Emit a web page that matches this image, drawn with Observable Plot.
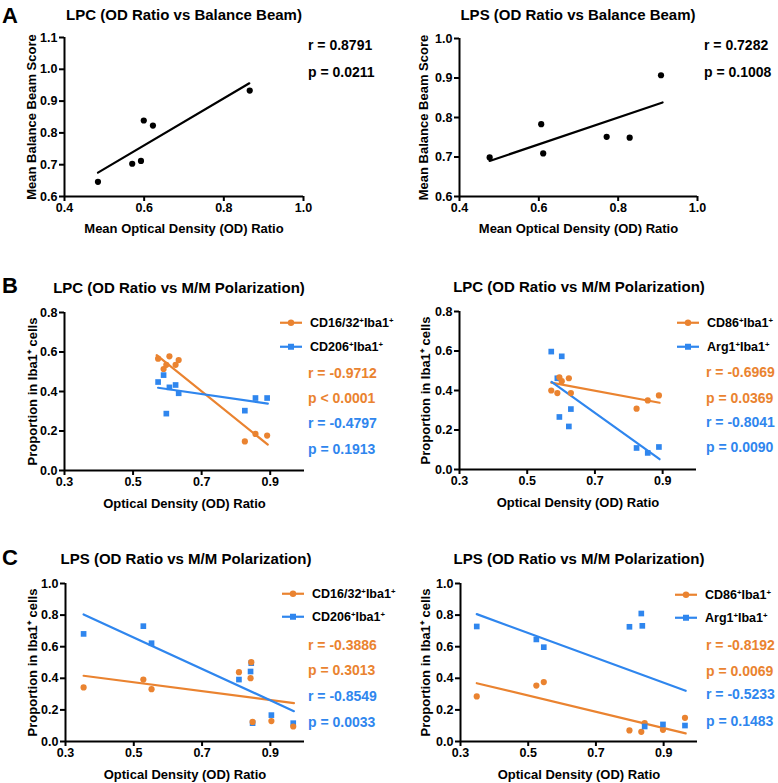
<!DOCTYPE html>
<html><head><meta charset="utf-8">
<script src="https://cdn.jsdelivr.net/npm/d3@7"></script>
<script src="https://cdn.jsdelivr.net/npm/@observablehq/plot@0.6"></script>
<style>
body{margin:0;background:#fff;}
#root{position:relative;width:778px;height:783px;overflow:hidden;background:#fff;font-family:"Liberation Sans",Arial,Helvetica,sans-serif;color:#000;}
.abs{position:absolute;white-space:nowrap;font-weight:bold;line-height:1;transform:translateY(-50%);}
.ttl{position:absolute;white-space:nowrap;font-weight:bold;line-height:1;font-size:15px;transform:translate(-50%,-50%);}
.let{position:absolute;font-weight:bold;font-size:22px;line-height:1;}
.stat{font-size:14px;}
.leg{font-size:12.5px;display:flex;align-items:center;}
sup{font-size:0.62em;vertical-align:0.5em;line-height:0;}
.plot{position:absolute;}
</style></head>
<body><div id="root"></div>
<script>
// ---------- DATA ----------
const ORANGE = "#EA8330", BLUE = "#2F86EE";

// A left: LPC OD ratio vs balance beam
const lpcBeamOD = [0.484, 0.570, 0.592, 0.599, 0.622, 0.865];
const lpcBeamScore = [0.646, 0.703, 0.712, 0.839, 0.823, 0.933];
const lpcBeamFitX = [0.484, 0.864];
const lpcBeamFitY = [0.675, 0.956];

// A right: LPS OD ratio vs balance beam
const lpsBeamOD = [0.476, 0.606, 0.611, 0.771, 0.829, 0.908];
const lpsBeamScore = [0.699, 0.783, 0.709, 0.751, 0.749, 0.907];
const lpsBeamFitX = [0.476, 0.912];
const lpsBeamFitY = [0.690, 0.838];

// B left: LPC CD16/32 & CD206
const lpcOD = [0.573, 0.589, 0.597, 0.606, 0.624, 0.633, 0.826, 0.857, 0.891];
const lpcCD1632 = [0.566, 0.514, 0.535, 0.578, 0.535, 0.559, 0.147, 0.185, 0.177];
const lpcCD206 = [0.448, 0.483, 0.288, 0.421, 0.433, 0.391, 0.303, 0.367, 0.367];
const lpcCD1632FitX = [0.569, 0.893], lpcCD1632FitY = [0.584, 0.131];
const lpcCD206FitX = [0.573, 0.893], lpcCD206FitY = [0.419, 0.339];

// B right: LPC CD86 & Arg1
const lpcOD2 = [0.571, 0.589, 0.595, 0.602, 0.623, 0.629, 0.823, 0.856, 0.889];
const lpcCD86 = [0.400, 0.387, 0.467, 0.447, 0.462, 0.387, 0.308, 0.350, 0.375];
const lpcArg1 = [0.597, 0.462, 0.266, 0.573, 0.218, 0.306, 0.109, 0.084, 0.114];
const lpcCD86FitX = [0.571, 0.891], lpcCD86FitY = [0.440, 0.338];
const lpcArg1FitX = [0.572, 0.891], lpcArg1FitY = [0.444, 0.052];

// C left: LPS CD16/32 & CD206
const lpsOD = [0.353, 0.528, 0.552, 0.808, 0.842, 0.844, 0.848, 0.903, 0.967];
const lpsCD1632 = [0.342, 0.392, 0.331, 0.439, 0.401, 0.502, 0.124, 0.129, 0.095];
const lpsCD206 = [0.681, 0.730, 0.622, 0.392, 0.443, 0.496, 0.116, 0.167, 0.116];
const lpsCD1632FitX = [0.353, 0.969], lpsCD1632FitY = [0.416, 0.243];
const lpsCD206FitX = [0.353, 0.969], lpsCD206FitY = [0.804, 0.192];

// C right: LPS CD86 & Arg1
const lpsCD86OD = [0.348, 0.524, 0.546, 0.799, 0.834, 0.844, 0.898, 0.963];
const lpsCD86 = [0.285, 0.354, 0.376, 0.070, 0.061, 0.116, 0.074, 0.150];
const lpsArg1OD = [0.348, 0.524, 0.546, 0.799, 0.834, 0.837, 0.844, 0.898, 0.963];
const lpsArg1 = [0.728, 0.646, 0.597, 0.726, 0.810, 0.732, 0.095, 0.108, 0.101];
const lpsCD86FitX = [0.348, 0.965], lpsCD86FitY = [0.369, 0.051];
const lpsArg1FitX = [0.348, 0.965], lpsArg1FitY = [0.806, 0.321];

// ticks
const beamXTicks = [0.4, 0.6, 0.8, 1.0];
const beamYTicksL = [0.6, 0.7, 0.8, 0.9, 1.0, 1.1];
const beamYTicksR = [0.6, 0.7, 0.8, 0.9, 1.0];
const polXTicks = [0.3, 0.5, 0.7, 0.9];
const polYTicksB = [0.0, 0.2, 0.4, 0.6, 0.8];
const polYTicksC = [0.0, 0.2, 0.4, 0.6, 0.8, 1.0];

// text
const titles = {
  aL: "LPC (OD Ratio vs Balance Beam)", aR: "LPS (OD Ratio vs Balance Beam)",
  bL: "LPC (OD Ratio vs M/M Polarization)", bR: "LPC (OD Ratio vs M/M Polarization)",
  cL: "LPS (OD Ratio vs M/M Polarization)", cR: "LPS (OD Ratio vs M/M Polarization)"
};
const beamXLabel = "Mean Optical Density (OD) Ratio";
const beamYLabel = "Mean Balance Beam Score";
const polXLabel = "Optical Density (OD) Ratio";
const polYLabel = "Proportion in Iba1⁺ cells";

// ---------- DRAW ----------
const root = document.getElementById("root");
const fmt = d3.format(".1f");

function panel(o) {
  const marks = [
    Plot.ruleX([o.xDomain[0]], {stroke: "#000", strokeWidth: 2}),
    Plot.ruleY([o.yDomain[0]], {stroke: "#000", strokeWidth: 2}),
    Plot.axisX({ticks: o.xTicks, tickFormat: fmt, tickSize: 5, tickPadding: 2, strokeWidth: 2, label: null, fontSize: 12.5}),
    Plot.axisY({ticks: o.yTicks, tickFormat: fmt, tickSize: 5, tickPadding: 2, strokeWidth: 2, label: null, fontSize: 12.5})
  ];
  for (const f of o.fits) marks.push(Plot.line(f.x, {x: f.x, y: f.y, stroke: f.color, strokeWidth: 2.2}));
  for (const s of o.series) marks.push(Plot.dot(s.x, {x: s.x, y: s.y, fill: s.color, stroke: "none",
      symbol: s.symbol, r: s.symbol === "square" ? 3.2 : 3.1}));
  marks.push(Plot.text([o.xLabel], {text: d => d, frameAnchor: "bottom", textAnchor: "middle", lineAnchor: "middle", dy: o.xLabelDy, fontSize: 13}));
  marks.push(Plot.text([o.yLabel], {text: d => d, frameAnchor: "left", textAnchor: "middle", lineAnchor: "middle", rotate: -90, dx: o.yLabelDx, fontSize: 13}));
  const svg = Plot.plot({
    width: o.width, height: o.height,
    marginLeft: o.ml, marginRight: o.width - o.frameR, marginTop: o.mt, marginBottom: o.mb,
    x: {domain: o.xDomain}, y: {domain: o.yDomain},
    style: {fontFamily: "'Liberation Sans', Arial, Helvetica, sans-serif", fontSize: "12.5px", fontWeight: "bold", color: "#000", background: "transparent", overflow: "visible"},
    marks
  });
  svg.classList.add("plot");
  svg.style.left = o.left + "px";
  svg.style.top = o.top + "px";
  root.appendChild(svg);
}

function addTitle(text, cx, cy) {
  const d = document.createElement("div"); d.className = "ttl";
  d.textContent = text; d.style.left = cx + "px"; d.style.top = cy + "px"; root.appendChild(d);
}
function addLetter(t, x, y) {
  const d = document.createElement("div"); d.className = "let";
  d.textContent = t; d.style.left = x + "px"; d.style.top = y + "px"; root.appendChild(d);
}
function addStat(text, x, y, color) {
  const d = document.createElement("div"); d.className = "abs stat";
  d.textContent = text; d.style.left = x + "px"; d.style.top = y + "px"; d.style.color = color; root.appendChild(d);
}
function addLegend(html, x, y, color, symbol) {
  const d = document.createElement("div"); d.className = "abs leg";
  d.style.left = x + "px"; d.style.top = y + "px";
  const mk = symbol === "square"
    ? `<rect x="8" y="1" width="6" height="6" fill="${color}"/>`
    : `<circle cx="11" cy="4" r="3.2" fill="${color}"/>`;
  d.innerHTML = `<svg width="22" height="8" style="margin-right:8px;overflow:visible"><line x1="0" x2="22" y1="4" y2="4" stroke="${color}" stroke-width="2.2"/>${mk}</svg><span>${html}</span>`;
  root.appendChild(d);
}

// Panel A
panel({left: 0, top: 30, width: 389, height: 210, ml: 64, frameR: 303, mt: 7, mb: 44,
  xDomain: [0.4, 1.0], yDomain: [0.6, 1.1], xTicks: beamXTicks, yTicks: beamYTicksL,
  xLabel: beamXLabel, yLabel: beamYLabel, xLabelDy: 32, yLabelDx: -33,
  fits: [{x: lpcBeamFitX, y: lpcBeamFitY, color: "#000"}],
  series: [{x: lpcBeamOD, y: lpcBeamScore, color: "#000", symbol: "circle"}]});
panel({left: 390, top: 30, width: 389, height: 210, ml: 69, frameR: 307, mt: 8, mb: 44,
  xDomain: [0.4, 1.0], yDomain: [0.6, 1.0], xTicks: beamXTicks, yTicks: beamYTicksR,
  xLabel: beamXLabel, yLabel: beamYLabel, xLabelDy: 32, yLabelDx: -36,
  fits: [{x: lpsBeamFitX, y: lpsBeamFitY, color: "#000"}],
  series: [{x: lpsBeamOD, y: lpsBeamScore, color: "#000", symbol: "circle"}]});

// Panel B
panel({left: 0, top: 300, width: 389, height: 210, ml: 64, frameR: 304, mt: 12, mb: 40,
  xDomain: [0.3, 1.0], yDomain: [0, 0.8], xTicks: polXTicks, yTicks: polYTicksB,
  xLabel: polXLabel, yLabel: polYLabel, xLabelDy: 33, yLabelDx: -32,
  fits: [{x: lpcCD1632FitX, y: lpcCD1632FitY, color: ORANGE}, {x: lpcCD206FitX, y: lpcCD206FitY, color: BLUE}],
  series: [{x: lpcOD, y: lpcCD1632, color: ORANGE, symbol: "circle"}, {x: lpcOD, y: lpcCD206, color: BLUE, symbol: "square"}]});
panel({left: 390, top: 300, width: 389, height: 210, ml: 69, frameR: 306, mt: 11, mb: 41,
  xDomain: [0.3, 1.0], yDomain: [0, 0.8], xTicks: polXTicks, yTicks: polYTicksB,
  xLabel: polXLabel, yLabel: polYLabel, xLabelDy: 33, yLabelDx: -34,
  fits: [{x: lpcCD86FitX, y: lpcCD86FitY, color: ORANGE}, {x: lpcArg1FitX, y: lpcArg1FitY, color: BLUE}],
  series: [{x: lpcOD2, y: lpcArg1, color: BLUE, symbol: "square"}, {x: lpcOD2, y: lpcCD86, color: ORANGE, symbol: "circle"}]});

// Panel C
panel({left: 0, top: 570, width: 389, height: 213, ml: 65, frameR: 304, mt: 13, mb: 42,
  xDomain: [0.3, 1.0], yDomain: [0, 1.0], xTicks: polXTicks, yTicks: polYTicksC,
  xLabel: polXLabel, yLabel: polYLabel, xLabelDy: 33, yLabelDx: -33,
  fits: [{x: lpsCD1632FitX, y: lpsCD1632FitY, color: ORANGE}, {x: lpsCD206FitX, y: lpsCD206FitY, color: BLUE}],
  series: [{x: lpsOD, y: lpsCD206, color: BLUE, symbol: "square"}, {x: lpsOD, y: lpsCD1632, color: ORANGE, symbol: "circle"}]});
panel({left: 390, top: 570, width: 389, height: 213, ml: 70, frameR: 307, mt: 13, mb: 42,
  xDomain: [0.3, 1.0], yDomain: [0, 1.0], xTicks: polXTicks, yTicks: polYTicksC,
  xLabel: polXLabel, yLabel: polYLabel, xLabelDy: 33, yLabelDx: -35,
  fits: [{x: lpsCD86FitX, y: lpsCD86FitY, color: ORANGE}, {x: lpsArg1FitX, y: lpsArg1FitY, color: BLUE}],
  series: [{x: lpsCD86OD, y: lpsCD86, color: ORANGE, symbol: "circle"}, {x: lpsArg1OD, y: lpsArg1, color: BLUE, symbol: "square"}]});

// Titles & letters
addLetter("A", 2, 5); addLetter("B", 2, 275); addLetter("C", 2, 547);
addTitle(titles.aL, 184, 14); addTitle(titles.aR, 578, 14);
addTitle(titles.bL, 179, 287); addTitle(titles.bR, 579, 286);
addTitle(titles.cL, 186, 558); addTitle(titles.cR, 579, 558);

// Stats A
addStat("r = 0.8791", 308, 45, "#000"); addStat("p = 0.0211", 308, 72, "#000");
addStat("r = 0.7282", 704, 45, "#000"); addStat("p = 0.1008", 704, 72, "#000");

// Legends & stats B
addLegend("CD16/32<sup>+</sup>Iba1<sup>+</sup>", 280, 323, ORANGE, "circle");
addLegend("CD206<sup>+</sup>Iba1<sup>+</sup>", 280, 347, BLUE, "square");
addStat("r = -0.9712", 308, 373, ORANGE); addStat("p < 0.0001", 308, 398, ORANGE);
addStat("r = -0.4797", 308, 423, BLUE); addStat("p = 0.1913", 308, 449, BLUE);
addLegend("CD86<sup>+</sup>Iba1<sup>+</sup>", 677, 323, ORANGE, "circle");
addLegend("Arg1<sup>+</sup>Iba1<sup>+</sup>", 677, 347, BLUE, "square");
addStat("r = -0.6969", 706, 372, ORANGE); addStat("p = 0.0369", 706, 398, ORANGE);
addStat("r = -0.8041", 706, 422, BLUE); addStat("p = 0.0090", 706, 447, BLUE);

// Legends & stats C
addLegend("CD16/32<sup>+</sup>Iba1<sup>+</sup>", 282, 594, ORANGE, "circle");
addLegend("CD206<sup>+</sup>Iba1<sup>+</sup>", 282, 617, BLUE, "square");
addStat("r = -0.3886", 308, 645, ORANGE); addStat("p = 0.3013", 308, 670, ORANGE);
addStat("r = -0.8549", 308, 696, BLUE); addStat("p = 0.0033", 308, 722, BLUE);
addLegend("CD86<sup>+</sup>Iba1<sup>+</sup>", 675, 595, ORANGE, "circle");
addLegend("Arg1<sup>+</sup>Iba1<sup>+</sup>", 675, 618, BLUE, "square");
addStat("r = -0.8192", 706, 645, ORANGE); addStat("p = 0.0069", 706, 671, ORANGE);
addStat("r = -0.5233", 706, 694, BLUE); addStat("p = 0.1483", 706, 721, BLUE);
</script>
</body></html>
